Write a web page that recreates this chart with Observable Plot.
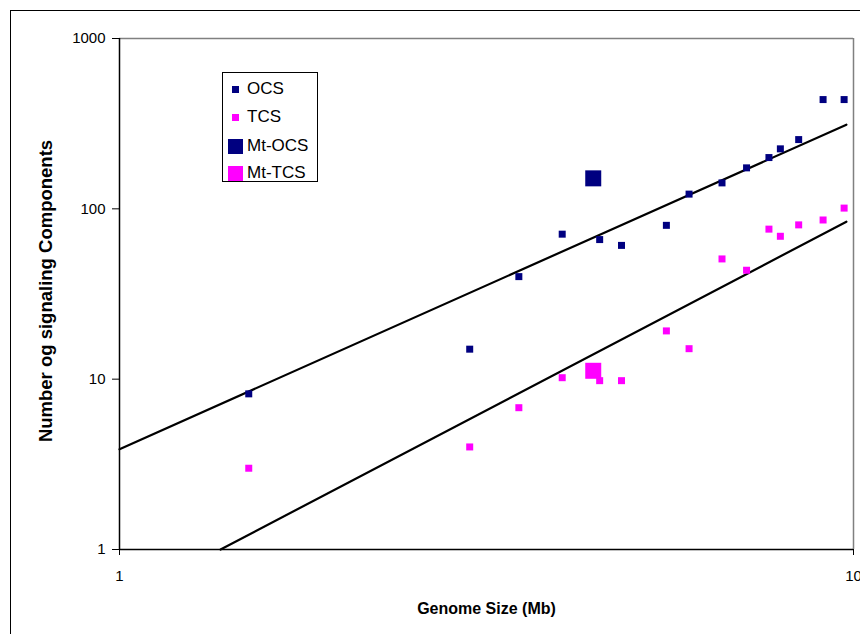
<!DOCTYPE html>
<html>
<head>
<meta charset="utf-8">
<script src="https://cdn.jsdelivr.net/npm/d3@7"></script>
<script src="https://cdn.jsdelivr.net/npm/@observablehq/plot@0.6"></script>
<style>
  html, body { margin: 0; padding: 0; background: #fff; overflow: hidden; }
  body { width: 860px; height: 634px; position: relative; font-family: "Liberation Sans", Arial, sans-serif; }
  #chart { position: absolute; left: 0; top: 0; }
  #outer { position: absolute; left: 10px; top: 10px; width: 900px; height: 700px; border: 1.5px solid #000; box-sizing: border-box; pointer-events: none; }
  #ytitle { position: absolute; left: 46px; top: 291px; transform: translate(-50%, -50%) rotate(-90deg); font-weight: bold; font-size: 18.5px; white-space: nowrap; color: #000; }
  #legend { position: absolute; left: 222px; top: 72px; width: 96px; height: 110px; border: 1px solid #000; box-sizing: border-box; background: #fff; }
  .li { position: absolute; left: 0; height: 20px; font-size: 17px; line-height: 20px; color: #000; }
  .li span.sw { position: absolute; }
  .li span.tx { position: absolute; left: 24px; top: 0; white-space: nowrap; }
</style>
</head>
<body>
<div id="chart"></div>
<div id="outer"></div>
<div id="ytitle"></div>
<div id="legend"></div>
<script>
// ---- data ----
const genomeSize = [1.50, 3.00, 3.50, 4.01, 4.51, 4.83, 5.56, 5.97, 6.62, 7.15, 7.67, 7.95, 8.42, 9.09, 9.71];
const ocsCount   = [8.2, 15, 40, 71, 66, 61, 80, 122, 142, 174, 200, 225, 255, 438, 438];
const tcsCount   = [3.0, 4.0, 6.8, 10.2, 9.8, 9.8, 19.2, 15.1, 50.8, 43.6, 76, 69, 80.5, 86, 101];
const mtGenomeSize = [4.42];
const mtOcsCount = [151];
const mtTcsCount = [11.2];
// trend lines (straight in log-log), endpoints
const ocsTrendX = [1.0, 9.78];
const ocsTrendY = [3.88, 312];
const tcsTrendX = [1.373, 9.78];
const tcsTrendY = [1.0, 84];
const xTicks = [1, 10];
const yTicks = [1, 10, 100, 1000];
const seriesNames = ["OCS", "TCS", "Mt-OCS", "Mt-TCS"];
const xTitle = "Genome Size (Mb)";
const yTitle = "Number og signaling Components";

const navy = "#000080", magenta = "#FF00FF";

const ocs = genomeSize.map((x, i) => ({x, y: ocsCount[i]}));
const tcs = genomeSize.map((x, i) => ({x, y: tcsCount[i]}));
const mtOcs = mtGenomeSize.map((x, i) => ({x, y: mtOcsCount[i]}));
const mtTcs = mtGenomeSize.map((x, i) => ({x, y: mtTcsCount[i]}));
const ocsTrend = ocsTrendX.map((x, i) => ({x, y: ocsTrendY[i]}));
const tcsTrend = tcsTrendX.map((x, i) => ({x, y: tcsTrendY[i]}));

const smallR = 7 / Math.sqrt(Math.PI);
const bigR = 16 / Math.sqrt(Math.PI);

const plot = Plot.plot({
  width: 860,
  height: 634,
  marginLeft: 119,
  marginRight: 7,
  marginTop: 38,
  marginBottom: 85,
  style: {fontFamily: "'Liberation Sans', Arial, sans-serif", background: "transparent"},
  x: {type: "log", domain: [1, 10]},
  y: {type: "log", domain: [1, 1000]},
  marks: [
    Plot.ruleY([1000], {stroke: "#808080", strokeWidth: 1.5}),
    Plot.ruleX([10], {stroke: "#808080", strokeWidth: 1.5}),
    Plot.line(tcsTrend, {x: "x", y: "y", stroke: "#000", strokeWidth: 2.2}),
    Plot.line(ocsTrend, {x: "x", y: "y", stroke: "#000", strokeWidth: 2.2}),
    Plot.dot(ocs, {x: "x", y: "y", symbol: "square", r: smallR, fill: navy, stroke: null}),
    Plot.dot(tcs, {x: "x", y: "y", symbol: "square", r: smallR, fill: magenta, stroke: null}),
    Plot.dot(mtOcs, {x: "x", y: "y", symbol: "square", r: bigR, fill: navy, stroke: null}),
    Plot.dot(mtTcs, {x: "x", y: "y", symbol: "square", r: bigR, fill: magenta, stroke: null}),
    Plot.ruleX([1], {stroke: "#000", strokeWidth: 1.5}),
    Plot.ruleY([1], {stroke: "#000", strokeWidth: 1.5}),
    Plot.axisX({ticks: xTicks, tickFormat: d => String(d), tickSize: 6, tickPadding: 15, fontSize: 15, label: null, stroke: "#000", color: "#000"}),
    Plot.axisY({ticks: yTicks, tickFormat: d => String(d), tickSize: 7, tickPadding: 7, fontSize: 15, label: null, stroke: "#000", color: "#000"}),
    Plot.text([xTitle], {frameAnchor: "bottom", dy: 64, text: d => d, fontSize: 16, fontWeight: "bold", fill: "#000"})
  ]
});
document.getElementById("chart").appendChild(plot);
document.getElementById("ytitle").textContent = yTitle;

// legend
const legend = document.getElementById("legend");
const entries = [
  {name: seriesNames[0], color: navy, size: 7, cy: 16},
  {name: seriesNames[1], color: magenta, size: 7, cy: 44},
  {name: seriesNames[2], color: navy, size: 15, cy: 73},
  {name: seriesNames[3], color: magenta, size: 15, cy: 100}
];
entries.forEach(e => {
  const row = document.createElement("div");
  row.className = "li";
  row.style.top = (e.cy - 10) + "px";
  row.style.width = "100%";
  const sw = document.createElement("span");
  sw.className = "sw";
  sw.style.width = e.size + "px";
  sw.style.height = e.size + "px";
  sw.style.background = e.color;
  sw.style.left = (12 - e.size / 2) + "px";
  sw.style.top = (10 - e.size / 2) + "px";
  const tx = document.createElement("span");
  tx.className = "tx";
  tx.textContent = e.name;
  row.appendChild(sw);
  row.appendChild(tx);
  legend.appendChild(row);
});
</script>
</body>
</html>
